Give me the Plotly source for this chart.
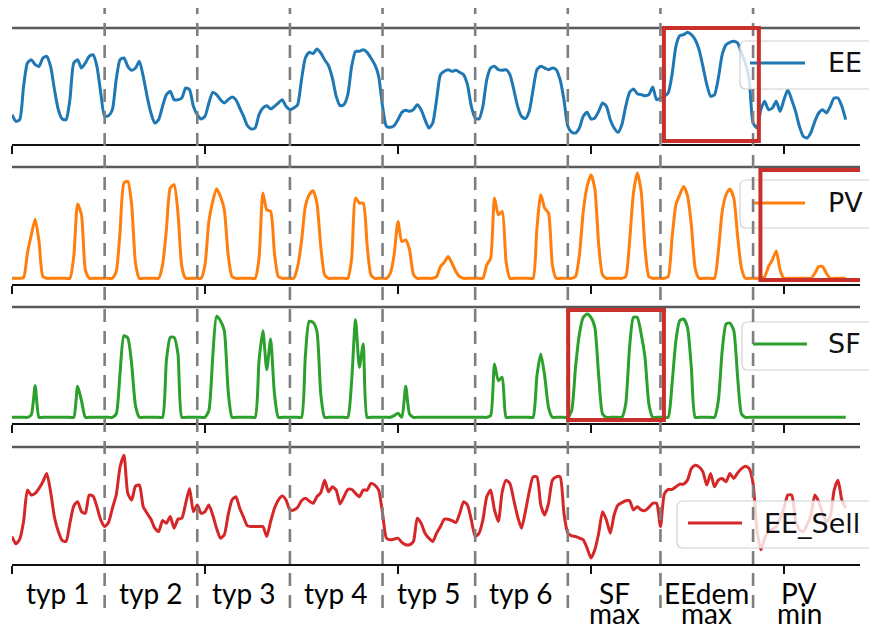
import plotly.graph_objects as go

# ---------------- data (hourly index, sampled every 2 h) ----------------
hours = list(range(0, 433, 2))

ee = [88,
      68, 73, 173, 243, 253, 238, 233, 258, 263, 233, 163, 103, 75, 73, 133, 243, 253, 228, 243, 263, 268, 233, 153, 83,
      85, 103, 193, 253, 258, 233, 221, 228, 248, 203, 143, 93, 63, 73, 113, 148, 158, 133, 133, 138, 168, 163, 113, 88,
      75, 83, 123, 155, 148, 133, 123, 133, 141, 133, 108, 83, 55, 45, 48, 88, 108, 115, 105, 113, 123, 133, 113, 103,
      108, 118, 193, 258, 275, 271, 285, 273, 253, 235, 198, 143, 115, 118, 148, 233, 278, 278, 283, 275, 258, 238, 203, 113,
      53, 50, 55, 73, 95, 101, 98, 103, 118, 103, 73, 48, 63, 133, 208, 218, 223, 218, 221, 215, 208, 178, 113, 78,
      75, 113, 193, 228, 233, 223, 221, 223, 208, 163, 113, 83, 76, 98, 163, 223, 233, 228, 223, 228, 223, 193, 133, 53,
      35, 33, 48, 83, 95, 75, 78, 98, 123, 113, 73, 48, 35, 58, 113, 155, 165, 151, 148, 145, 148, 171, 133, 138,
      143, 153, 208, 293, 325, 328, 335, 328, 313, 283, 233, 178, 143, 148, 198, 268, 298, 305, 308, 303, 273, 243, 193, 63,
      48, 103, 128, 103, 108, 128, 98, 133, 163, 133, 98, 53, 23, 18, 35, 68, 93, 103, 93, 113, 138, 138, 113, 73]

pv = [0,
      0, 0, 2, 75, 130, 177, 110, 5, 0, 0, 0, 0, 0, 0, 0, 65, 222, 190, 25, 0, 0, 0, 0, 0,
      0, 0, 20, 140, 285, 290, 220, 45, 0, 0, 0, 0, 0, 0, 40, 145, 270, 280, 195, 35, 0, 0, 0, 0,
      0, 40, 170, 230, 268, 245, 205, 70, 5, 0, 0, 0, 0, 0, 0, 60, 255, 205, 200, 75, 5, 0, 0, 0,
      0, 35, 110, 215, 250, 262, 225, 95, 10, 0, 0, 0, 0, 0, 0, 60, 240, 225, 225, 100, 10, 0, 0, 0,
      0, 15, 70, 170, 110, 115, 85, 12, 0, 0, 0, 0, 0, 5, 35, 48, 65, 45, 20, 5, 0, 0, 0, 0,
      0, 0, 40, 60, 240, 190, 200, 50, 0, 0, 0, 0, 0, 0, 0, 150, 250, 210, 195, 40, 0, 0, 0, 0,
      0, 5, 70, 200, 275, 310, 268, 100, 10, 0, 0, 0, 0, 0, 5, 110, 255, 315, 260, 90, 5, 0, 0, 0,
      0, 5, 120, 220, 250, 275, 248, 160, 30, 0, 0, 0, 0, 0, 80, 200, 250, 267, 240, 125, 30, 0, 0, 0,
      0, 0, 5, 35, 55, 82, 25, 0, 0, 0, 0, 0, 0, 0, 0, 15, 35, 35, 15, 0, 0, 0, 0, 0]

sf = [0,
      0, 0, 0, 0, 8, 95, 0, 0, 0, 0, 0, 0, 0, 0, 0, 0, 93, 50, 0, 0, 0, 0, 0, 0,
      0, 0, 10, 133, 245, 238, 160, 35, 0, 0, 0, 0, 0, 0, 0, 170, 240, 240, 190, 0, 0, 0, 0, 0,
      0, 0, 20, 180, 303, 290, 260, 80, 0, 0, 0, 0, 0, 0, 0, 170, 260, 143, 235, 70, 0, 0, 0, 0,
      0, 0, 0, 183, 288, 285, 258, 70, 0, 0, 0, 0, 0, 0, 0, 110, 293, 150, 220, 0, 0, 0, 0, 0,
      0, 0, 5, 12, 0, 93, 10, 0, 0, 0, 0, 0, 0, 0, 0, 0, 0, 0, 0, 0, 0, 0, 0, 0,
      0, 0, 0, 5, 160, 110, 120, 0, 0, 0, 0, 0, 0, 0, 0, 125, 190, 125, 30, 0, 0, 0, 0, 0,
      20, 150, 250, 300, 310, 300, 270, 125, 10, 0, 0, 0, 0, 0, 40, 210, 300, 300, 250, 180, 40, 0, 0, 0,
      0, 0, 100, 230, 290, 295, 270, 150, 0, 0, 0, 0, 0, 0, 50, 200, 280, 283, 260, 120, 10, 0, 0, 0,
      0, 0, 0, 0, 0, 0, 0, 0, 0, 0, 0, 0, 0, 0, 0, 0, 0, 0, 0, 0, 0, 0, 0, 0]

ee_sell = [83,
           61, 75, 128, 223, 208, 213, 228, 248, 273, 218, 141, 98, 71, 68, 123, 175, 188, 158, 153, 208, 205, 173, 133, 113,
           125, 168, 208, 293, 328, 213, 193, 235, 238, 173, 153, 135, 108, 98, 131, 123, 143, 108, 135, 138, 183, 228, 158, 178,
           153, 158, 178, 148, 108, 78, 88, 148, 193, 203, 168, 141, 115, 113, 113, 113, 113, 83, 128, 168, 193, 205, 193, 163,
           163, 171, 191, 198, 190, 183, 203, 215, 253, 218, 233, 223, 181, 203, 225, 225, 213, 203, 223, 223, 243, 238, 223, 153,
           78, 73, 75, 78, 65, 58, 58, 68, 138, 123, 93, 78, 68, 93, 113, 135, 135, 131, 125, 153, 188, 178, 133, 83,
           93, 133, 203, 223, 163, 128, 218, 253, 243, 193, 143, 108, 158, 218, 263, 263, 178, 148, 183, 253, 263, 263, 153, 93,
           85, 83, 78, 73, 48, 18, 43, 93, 158, 133, 93, 148, 178, 185, 191, 191, 163, 173, 163, 161, 171, 183, 183, 113,
           211, 225, 225, 233, 241, 241, 253, 288, 298, 293, 278, 238, 273, 233, 253, 258, 248, 273, 258, 275, 288, 295, 288, 243,
           103, 43, 78, 98, 105, 113, 138, 168, 208, 208, 133, 103, 98, 118, 148, 208, 188, 153, 128, 143, 223, 253, 193, 168]

series_names = ["EE", "PV", "SF", "EE_Sell"]
series_values = [ee, pv, sf, ee_sell]
series_colors = ["#1f77b4", "#ff7f0e", "#2ca02c", "#d62728"]
y_ranges = [[0, 348], [-17, 333], [-17, 331], [0, 353]]

period_bounds = [48, 96, 144, 192, 240, 288, 336, 384]
period_centers = [24, 72, 120, 168, 216, 264, 312, 360, 408]
label_line1 = ["typ 1", "typ 2", "typ 3", "typ 4", "typ 5", "typ 6", "SF", "EEdem", "PV"]
label_line2 = ["", "", "", "", "", "", "max", "max", "min"]
tick_vals = [0, 100, 200, 300, 400]
x_range = [0, 439.4]

# highlighted periods (hours) and the subplot they sit on
highlights = [(337.8, 387.0, 0), (387.8, 470.0, 1), (288.2, 337.8, 2)]

# ---------------- geometry helpers ----------------
W, H = 869, 630
def fx(p):
    return p / W
def fy(p):
    return 1 - p / H

# subplot pixel extents (top, bottom)
panels_px = [(28, 144), (167, 284), (307, 423), (447, 564)]
x_dom = [fx(12), fx(860)]

fig = go.Figure()
layout = dict(width=W, height=H, margin=dict(l=0, r=0, t=0, b=0),
              paper_bgcolor="white", plot_bgcolor="white", showlegend=False)

for i, (name, vals, col) in enumerate(zip(series_names, series_values, series_colors)):
    k = "" if i == 0 else str(i + 1)
    fig.add_trace(go.Scatter(x=hours, y=vals, mode="lines", name=name,
                             line=dict(color=col, width=3.0, shape="spline", smoothing=0.6),
                             xaxis="x" + k, yaxis="y" + k))
    top, bot = panels_px[i]
    layout["xaxis" + k] = dict(domain=x_dom, range=x_range, anchor="y" + k,
                               showgrid=False, zeroline=False, showline=True,
                               linecolor="#111111", linewidth=1.8,
                               ticks="outside", tickvals=tick_vals, ticklen=8,
                               tickwidth=1.6, tickcolor="#111111",
                               showticklabels=False, fixedrange=True)
    layout["yaxis" + k] = dict(domain=[fy(bot), fy(top)], range=y_ranges[i],
                               anchor="x" + k, visible=False, fixedrange=True)

fig.update_layout(**layout)

shapes = []
# top spines
for top, bot in panels_px:
    shapes.append(dict(type="line", xref="paper", yref="paper",
                       x0=x_dom[0], x1=x_dom[1], y0=fy(top), y1=fy(top),
                       line=dict(color="#5a5a5a", width=2.4), layer="above"))

# legend boxes (drawn by hand so they run off the right edge like the original)
legend_px = [  # left, top, bottom, line_y, line_x0, line_x1, text_x
    (740, 41, 89, 63, 750, 805, 826),
    (740, 180, 228, 203, 752, 805, 826),
    (742, 322, 370, 344, 753, 807, 826),
    (677, 501, 548, 523, 688, 742, 762),
]
def rounded_rect(l, t, r, b, rad=6):
    return (f"M {fx(l+rad)} {fy(t)} L {fx(r-rad)} {fy(t)} Q {fx(r)} {fy(t)} {fx(r)} {fy(t+rad)} "
            f"L {fx(r)} {fy(b-rad)} Q {fx(r)} {fy(b)} {fx(r-rad)} {fy(b)} "
            f"L {fx(l+rad)} {fy(b)} Q {fx(l)} {fy(b)} {fx(l)} {fy(b-rad)} "
            f"L {fx(l)} {fy(t+rad)} Q {fx(l)} {fy(t)} {fx(l+rad)} {fy(t)} Z")

annotations = []
for (l, t, b, ly, lx0, lx1, tx), name, col in zip(legend_px, series_names, series_colors):
    shapes.append(dict(type="path", xref="paper", yref="paper",
                       path=rounded_rect(l, t, 880, b),
                       fillcolor="rgba(255,255,255,0.8)",
                       line=dict(color="#d0d0d0", width=1.2), layer="above"))
    shapes.append(dict(type="line", xref="paper", yref="paper",
                       x0=fx(lx0), x1=fx(lx1), y0=fy(ly), y1=fy(ly),
                       line=dict(color=col, width=2.8), layer="above"))
    annotations.append(dict(text=name, xref="paper", yref="paper",
                            x=fx(tx), y=fy(ly), xanchor="left", yanchor="middle",
                            showarrow=False,
                            font=dict(family="DejaVu Sans", size=27, color="#111111")))

# dashed period separators, spanning the whole figure
for b in period_bounds:
    shapes.append(dict(type="line", xref="x", yref="paper", x0=b, x1=b,
                       y0=fy(608), y1=fy(8),
                       line=dict(color="#7f7f7f", width=2.6, dash="13px,9px"),
                       layer="above"))

# red highlight rectangles
for h0, h1, p in highlights:
    top, bot = panels_px[p]
    shapes.append(dict(type="rect", xref="x", yref="paper", x0=h0, x1=h1,
                       y0=fy(bot - 3 if p != 1 else bot - 4), y1=fy(top + (0 if p == 0 else 3)),
                       line=dict(color="#c9302c", width=4), fillcolor="rgba(0,0,0,0)",
                       layer="above"))

# period labels below the bottom panel
for c, l1, l2 in zip(period_centers, label_line1, label_line2):
    annotations.append(dict(text=l1, xref="x4", yref="paper", x=c, y=fy(593),
                            xanchor="center", yanchor="middle", showarrow=False,
                            font=dict(family="Lato", size=28, color="black")))
    if l2:
        annotations.append(dict(text=l2, xref="x4", yref="paper", x=c, y=fy(613),
                                xanchor="center", yanchor="middle", showarrow=False,
                                font=dict(family="Lato", size=28, color="black")))

fig.update_layout(shapes=shapes, annotations=annotations)
fig.write_html("out.html",
               config={"displayModeBar": False, "staticPlot": True},
               post_script="document.body.style.margin='0px';document.body.style.overflow='hidden';")
